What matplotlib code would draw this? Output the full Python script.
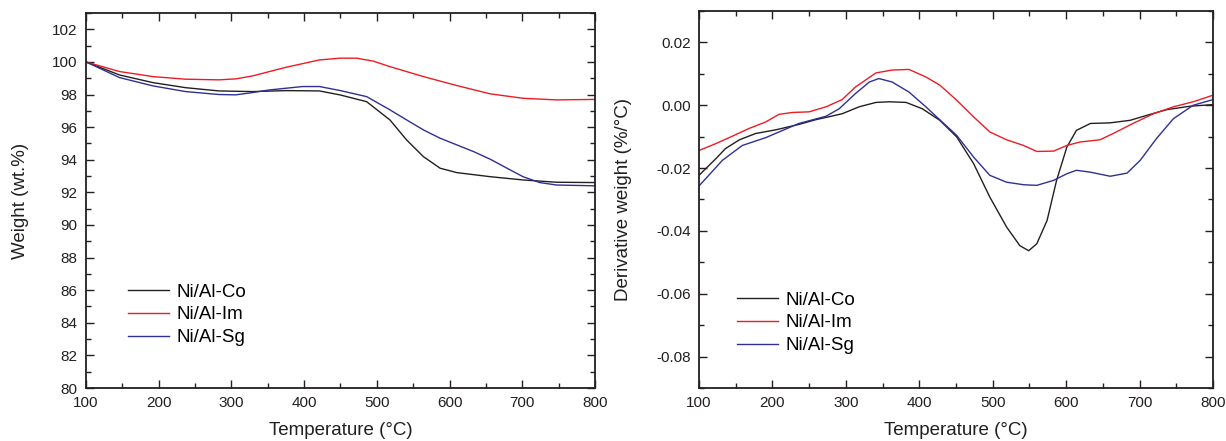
import matplotlib
matplotlib.use("Agg")
import matplotlib.pyplot as plt
from matplotlib.ticker import MultipleLocator, FormatStrFormatter

plt.rcParams['font.family'] = ['Liberation Sans', 'DejaVu Sans']
plt.rcParams['axes.unicode_minus'] = False

# ---- Left panel: weight (TGA) ----
tga_temp_co = [100, 146, 192, 237, 283, 329, 375, 421, 449, 486, 518, 541, 564, 587, 610, 656, 701, 747, 800]
tga_co = [100.0, 99.2, 98.73, 98.42, 98.22, 98.18, 98.24, 98.22, 97.98, 97.56, 96.44, 95.21, 94.19, 93.48, 93.21,
          92.96, 92.76, 92.62, 92.6]

tga_temp_im = [100, 146, 192, 237, 283, 306, 329, 375, 421, 449, 472, 495, 518, 564, 610, 656, 701, 747, 800]
tga_im = [100.0, 99.41, 99.1, 98.94, 98.9, 98.96, 99.14, 99.67, 100.12, 100.23, 100.23, 100.05, 99.71, 99.1, 98.55,
          98.04, 97.77, 97.67, 97.7]

tga_temp_sg = [100, 146, 192, 237, 283, 306, 329, 352, 398, 421, 449, 486, 518, 541, 564, 587, 610, 633, 656, 679,
               701, 724, 747, 800]
tga_sg = [100.0, 99.04, 98.53, 98.18, 98.0, 97.98, 98.12, 98.28, 98.49, 98.49, 98.25, 97.87, 97.06, 96.44, 95.83,
          95.32, 94.91, 94.5, 94.03, 93.48, 92.96, 92.6, 92.45, 92.4]

# ---- Right panel: derivative weight (DTG) ----
dtg_temp_co = [100, 123, 136, 155, 177, 205, 236, 259, 282, 295, 318, 341, 359, 382, 404, 428, 451, 474, 496, 519,
               537, 549, 560, 574, 587, 601, 614, 633, 660, 687, 710, 737, 769, 800]
dtg_co = [-0.0223, -0.017, -0.0138, -0.011, -0.009, -0.0078, -0.0061, -0.0046, -0.0034, -0.0027, -0.0005, 0.0009,
          0.0011, 0.0009, -0.0011, -0.0048, -0.0101, -0.0186, -0.0292, -0.0388, -0.0447, -0.0463, -0.0441, -0.0367,
          -0.0239, -0.0133, -0.008, -0.0058, -0.0056, -0.0048, -0.0032, -0.0014, -0.0003, 0.0002]

dtg_temp_im = [100, 123, 145, 168, 191, 209, 227, 250, 273, 295, 313, 341, 363, 386, 409, 428, 451, 474, 496, 519,
               542, 560, 583, 601, 619, 646, 664, 691, 719, 746, 773, 800]
dtg_im = [-0.0144, -0.0122, -0.0099, -0.0074, -0.0053, -0.0029, -0.0023, -0.0021, -0.0005, 0.0018, 0.0058, 0.0103,
          0.0112, 0.0114, 0.009, 0.0064, 0.0016, -0.0037, -0.0085, -0.011, -0.0128, -0.0147, -0.0146, -0.0128,
          -0.0117, -0.011, -0.009, -0.0058, -0.0027, -0.0005, 0.0011, 0.0032]

dtg_temp_sg = [100, 132, 159, 191, 214, 236, 273, 291, 313, 332, 345, 363, 386, 409, 431, 451, 474, 496, 519, 542,
               560, 583, 601, 614, 633, 660, 683, 701, 723, 746, 773, 800]
dtg_sg = [-0.0257, -0.0175, -0.0128, -0.0103, -0.008, -0.0058, -0.0035, -0.0011, 0.0037, 0.0074, 0.0085, 0.0074,
          0.0042, -0.0005, -0.0053, -0.0096, -0.0165, -0.0223, -0.0245, -0.0253, -0.0255, -0.0239, -0.0218, -0.0207,
          -0.0213, -0.0226, -0.0216, -0.0175, -0.0106, -0.0043, 0.0, 0.0018]

labels = ["Ni/Al-Co", "Ni/Al-Im", "Ni/Al-Sg"]
colors = ["#231f20", "#ed1c24", "#2e3192"]

fig = plt.figure(figsize=(12.26, 4.41), dpi=100)
W, H = 1226, 441
ax1 = fig.add_axes([86 / W, (H - 388) / H, (595 - 86) / W, (388 - 13) / H])
ax2 = fig.add_axes([699 / W, (H - 388) / H, (1213 - 699) / W, (388 - 11) / H])


def style(ax):
    for s in ax.spines.values():
        s.set_linewidth(1.3)
        s.set_color("#231f20")
    ax.tick_params(which='both', direction='in', top=True, right=True, colors="#231f20",
                   labelsize=11, width=1.0)
    ax.tick_params(which='major', length=6, pad=6)
    ax.tick_params(which='minor', length=3.5)
    ax.set_xlim(100, 800)
    ax.xaxis.set_major_locator(MultipleLocator(100))
    ax.xaxis.set_minor_locator(MultipleLocator(50))
    ax.set_xlabel("Temperature (\u00b0C)", fontsize=13.5, labelpad=8.5, color="#231f20")


ax1.plot(tga_temp_co, tga_co, color=colors[0], lw=1.0, label=labels[0])
ax1.plot(tga_temp_im, tga_im, color=colors[1], lw=1.0, label=labels[1])
ax1.plot(tga_temp_sg, tga_sg, color=colors[2], lw=1.0, label=labels[2])
style(ax1)
ax1.set_ylim(80, 103)
ax1.yaxis.set_major_locator(MultipleLocator(2))
ax1.yaxis.set_minor_locator(MultipleLocator(1))
ax1.set_ylabel("Weight (wt.%)", fontsize=13.5, labelpad=17, color="#231f20")
ax1.legend(loc='center left', bbox_to_anchor=(0.083, 0.195), frameon=False, fontsize=13.5,
           borderpad=0, borderaxespad=0, handlelength=2.2, handletextpad=0.4, labelspacing=0.3)

ax2.plot(dtg_temp_co, dtg_co, color=colors[0], lw=1.0, label=labels[0])
ax2.plot(dtg_temp_im, dtg_im, color=colors[1], lw=1.0, label=labels[1])
ax2.plot(dtg_temp_sg, dtg_sg, color=colors[2], lw=1.0, label=labels[2])
style(ax2)
ax2.set_ylim(-0.09, 0.03)
ax2.yaxis.set_major_locator(MultipleLocator(0.02))
ax2.yaxis.set_minor_locator(MultipleLocator(0.01))
ax2.yaxis.set_major_formatter(FormatStrFormatter('%.2f'))
ax2.set_ylabel("Derivative weight (%/\u00b0C)", fontsize=13.5, labelpad=17, color="#231f20")
ax2.legend(loc='center left', bbox_to_anchor=(0.074, 0.173), frameon=False, fontsize=13.5,
           borderpad=0, borderaxespad=0, handlelength=2.2, handletextpad=0.4, labelspacing=0.3)

fig.savefig("out.png", dpi=100)
